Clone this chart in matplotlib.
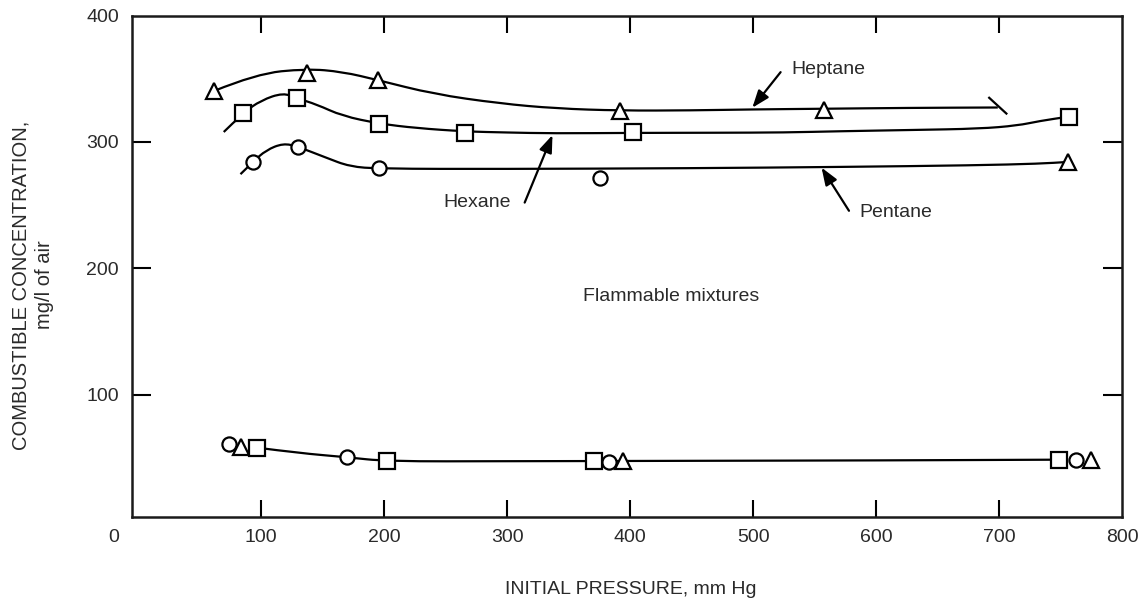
import numpy as np
import matplotlib
matplotlib.use('Agg')
import matplotlib.pyplot as plt
from matplotlib.path import Path
from matplotlib.patches import PathPatch
from matplotlib.transforms import ScaledTranslation

# ---------------- data ----------------
x_ticks = [0, 100, 200, 300, 400, 500, 600, 700, 800]
y_ticks = [100, 200, 300, 400]

# upper-limit data points
heptane_x = [61.5, 137.4, 194.8, 392.2, 557.4]
heptane_y = [340.3, 354.8, 349.0, 324.5, 325.1]
hexane_x = [85.6, 129.3, 196.2, 266.1, 402.2, 756.9]
hexane_y = [323.2, 334.5, 314.5, 307.4, 307.9, 320.1]
pentane_x = [93.5, 129.8, 196.2, 375.9]
pentane_y = [284.4, 296.3, 279.2, 271.8]
pentane_end_tri_x = [756.1]
pentane_end_tri_y = [284.2]

# lower-limit data points
low_circ_x = [73.5, 169.6, 383.1, 762.5]
low_circ_y = [60.5, 50.4, 46.5, 47.8]
low_tri_x = [83.8, 394.5, 774.8]
low_tri_y = [58.3, 47.3, 47.8]
low_sq_x = [96.8, 202.1, 370.4, 749.1]
low_sq_y = [57.9, 47.0, 47.3, 48.4]

# hand-drawn curves
hept_curve_x = [61.5, 96, 137, 166, 195, 240, 294, 340, 392, 450, 500, 557, 625, 699]
hept_curve_y = [340.3, 354, 358, 355.6, 349, 338, 330.5, 326.5, 324.8, 325, 325.8, 326.3, 327, 327.3]
hept_hook_x = [692, 706]
hept_hook_y = [335, 322.5]
hex_curve_x = [69.6, 85.6, 100, 118, 129.3, 145, 166, 196.2, 226, 266, 300, 337, 402,
               470, 526, 570, 630, 684, 715, 733, 756.9]
hex_curve_y = [307.9, 323.2, 333, 339, 334.5, 329.8, 320.6, 314.5, 311, 308.3, 307.5, 306.8, 307.2,
               307.3, 307.5, 308.5, 309.5, 310.5, 313, 316.6, 320.1]
pent_curve_x = [83.2, 93.5, 104, 118, 129.8, 152.8, 172, 196.2, 294, 450, 570, 680, 733, 756.1]
pent_curve_y = [274.5, 284.4, 293.5, 299, 296.3, 287.6, 280.5, 278.8, 278.6, 279.2, 280.2, 281.5, 282.8, 284.2]
low_curve_x = [96.8, 131, 169.6, 202.1, 300, 370.4, 450, 600, 749.1]
low_curve_y = [57.9, 53.6, 50.4, 47.0, 47.2, 47.3, 47.5, 47.8, 48.4]

# annotations: (text, text position, arrow tail, arrow head)
heptane_label = ("Heptane", (531, 357.5), (522.4, 355.3), (499.4, 327.1))
hexane_label = ("Hexane", (275.4, 252), (314.3, 252), (336.9, 305.5))
pentane_label = ("Pentane", (616.3, 244.1), (578, 245.5), (555.7, 279.7))
region_label = ("Flammable mixtures", (433.5, 177.5))

# ---------------- drawing ----------------
plt.rcParams['font.family'] = ['Liberation Sans', 'DejaVu Sans']
TXT = '#2a2a2a'
FS = 14
LW = 1.6

fig = plt.figure(figsize=(11.45, 6.02), dpi=100)
ax = fig.add_axes([132 / 1145, 1 - 517 / 602, 990 / 1145, (517 - 15.7) / 602])
ax.set_xlim(-5, 800)
ax.set_ylim(3, 400)


def smooth_path(xs, ys):
    pts = list(zip(xs, ys))
    verts = [pts[0]]
    codes = [Path.MOVETO]
    for i in range(1, len(pts) - 1):
        mid = ((pts[i][0] + pts[i + 1][0]) / 2, (pts[i][1] + pts[i + 1][1]) / 2)
        verts += [pts[i], mid]
        codes += [Path.CURVE3, Path.CURVE3]
    verts.append(pts[-1])
    codes.append(Path.LINETO)
    return Path(verts, codes)


for cx, cy in [(hept_curve_x, hept_curve_y), (hex_curve_x, hex_curve_y),
               (pent_curve_x, pent_curve_y), (low_curve_x, low_curve_y)]:
    ax.add_patch(PathPatch(smooth_path(cx, cy), fill=False, lw=LW, ec='black',
                           capstyle='butt', zorder=2))
ax.plot(hept_hook_x, hept_hook_y, color='black', lw=LW, zorder=2)

mk = dict(linestyle='none', mfc='white', mec='black', mew=1.6, zorder=3)
TRI, SQ, CIR = 11.8, 12.2, 10.2
ax.plot(heptane_x, heptane_y, marker='^', ms=TRI, **mk)
ax.plot(hexane_x, hexane_y, marker='s', ms=SQ, **mk)
ax.plot(pentane_x, pentane_y, marker='o', ms=CIR, **mk)
ax.plot(pentane_end_tri_x, pentane_end_tri_y, marker='^', ms=TRI, **mk)
ax.plot(low_circ_x, low_circ_y, marker='o', ms=CIR, **mk)
ax.plot(low_tri_x, low_tri_y, marker='^', ms=TRI, **mk)
ax.plot(low_sq_x, low_sq_y, marker='s', ms=SQ, **mk)

arrow_kw = dict(arrowstyle='-|>,head_length=0.75,head_width=0.28', lw=LW, color='black',
                shrinkA=0, shrinkB=0, mutation_scale=14)
for (txt, tpos, tail, head), ha in [(heptane_label, 'left'), (hexane_label, 'center'),
                                    (pentane_label, 'center')]:
    ax.text(tpos[0], tpos[1], txt, ha=ha, va='center', fontsize=FS, color=TXT)
    ax.annotate('', xy=head, xytext=tail, arrowprops=arrow_kw)
ax.text(region_label[1][0], region_label[1][1], region_label[0], ha='center', va='center',
        fontsize=FS, color=TXT)

# axes styling
for s in ax.spines.values():
    s.set_linewidth(1.8)
    s.set_color('#1a1a1a')

ax.set_xticks(x_ticks)
ax.set_xticklabels([str(v) for v in x_ticks])
ax.set_yticks(y_ticks)
ax.set_yticklabels([str(v) for v in y_ticks])
ax.tick_params(axis='x', direction='in', length=12, width=1.5, top=True, bottom=True,
               labelsize=FS, labelcolor=TXT, pad=8.5)
ax.tick_params(axis='y', direction='in', length=14, width=1.5, left=True, right=True,
               labelsize=FS, labelcolor=TXT, pad=9.5)
for t in ax.xaxis.get_major_ticks():
    if t.get_loc() in (0, 800):
        t.tick1line.set_visible(False)
        t.tick2line.set_visible(False)
for t in ax.yaxis.get_major_ticks():
    if t.get_loc() == 400:
        t.tick1line.set_visible(False)
        t.tick2line.set_visible(False)

lab0 = ax.get_xticklabels()[0]
lab0.set_transform(lab0.get_transform() + ScaledTranslation(-24 / 100, 0, fig.dpi_scale_trans))

fig.text(631 / 1145, 1 - 590 / 602, 'INITIAL PRESSURE, mm Hg', ha='center', va='center',
         fontsize=FS, color=TXT)
fig.text(33 / 1145, 1 - 285 / 602, 'COMBUSTIBLE CONCENTRATION,\nmg/l of air', rotation=90,
         ha='center', va='center', multialignment='center', fontsize=14.5, color=TXT,
         linespacing=1.3)

fig.savefig('out.png', dpi=100, facecolor='white')
